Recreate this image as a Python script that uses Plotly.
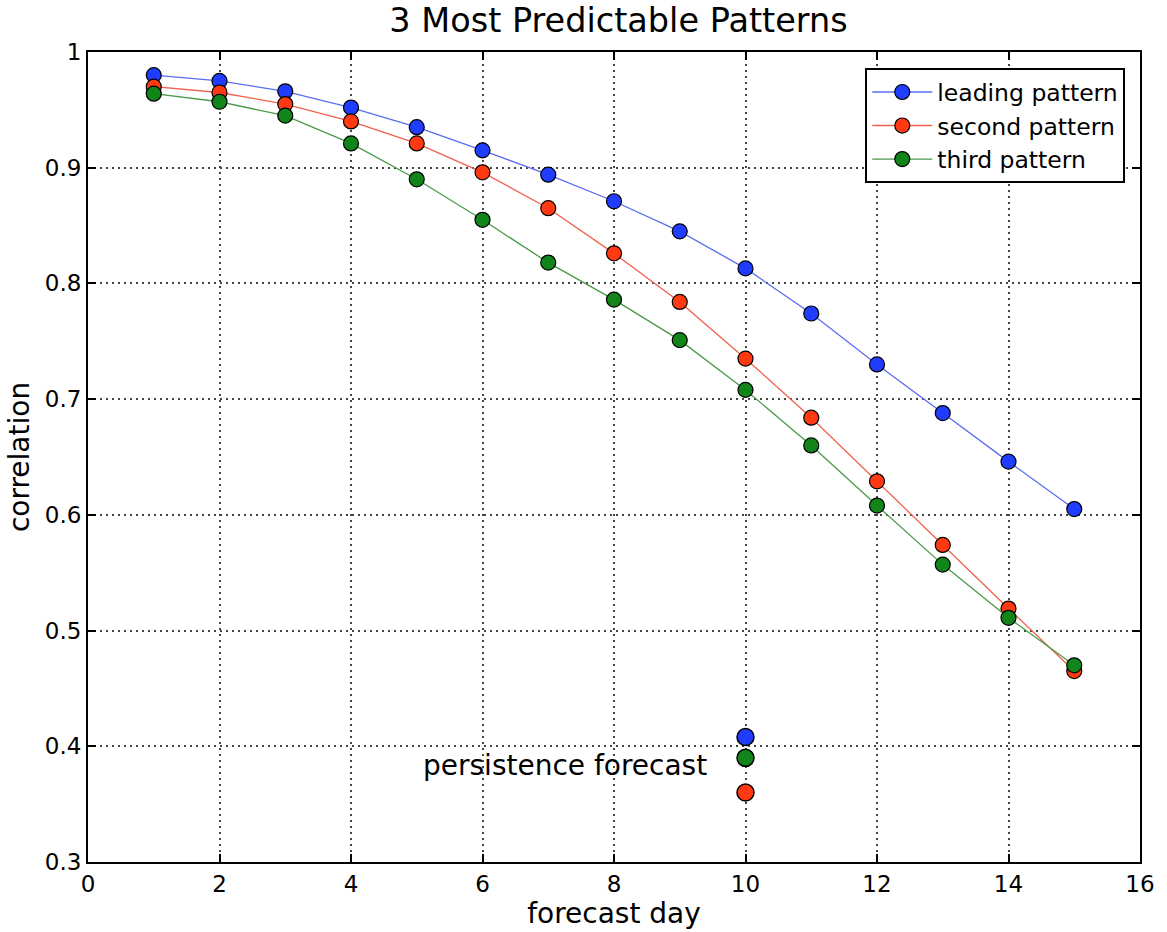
import plotly.graph_objects as go

days = list(range(1, 16))
leading = [0.980, 0.975, 0.966, 0.952, 0.935, 0.915, 0.894, 0.871, 0.845, 0.813, 0.774, 0.730, 0.688, 0.646, 0.605]
second = [0.970, 0.965, 0.955, 0.940, 0.921, 0.896, 0.865, 0.826, 0.784, 0.735, 0.684, 0.629, 0.574, 0.519, 0.465]
third = [0.964, 0.957, 0.945, 0.921, 0.890, 0.855, 0.818, 0.786, 0.751, 0.708, 0.660, 0.608, 0.557, 0.511, 0.470]
persist_day = 10
persist_vals = {"leading": 0.408, "third": 0.390, "second": 0.360}

names = ["leading pattern", "second pattern", "third pattern"]
marker_colors = ["#1f3cff", "#ff3a12", "#11851a"]
line_colors = ["#5a6cf0", "#f0604a", "#4a9a4a"]

FONT = "DejaVu Sans, Verdana, sans-serif"
fig = go.Figure()
for name, ys, mc, lc in zip(names, [leading, second, third], marker_colors, line_colors):
    fig.add_trace(go.Scatter(
        x=days, y=ys, name=name, mode="lines+markers",
        line=dict(color=lc, width=1.3),
        marker=dict(size=15, color=mc, line=dict(color="black", width=1.2)),
    ))

for key, mc in [("leading", marker_colors[0]), ("third", marker_colors[2]), ("second", marker_colors[1])]:
    fig.add_trace(go.Scatter(
        x=[persist_day], y=[persist_vals[key]], mode="markers", showlegend=False,
        marker=dict(size=17, color=mc, line=dict(color="black", width=1.5)),
    ))

fig.add_annotation(x=9.44, y=0.3836, xref="x", yref="y", text="persistence forecast",
                   showarrow=False, xanchor="right", yanchor="middle",
                   font=dict(family=FONT, size=28, color="black"))

axis_common = dict(
    showgrid=True, gridcolor="#444444", griddash="1.5px,4.5px", gridwidth=1.5,
    showline=True, linecolor="black", linewidth=2, mirror="ticks",
    ticks="inside", ticklen=8, tickcolor="black", tickwidth=1.5,
    zeroline=False, tickfont=dict(family=FONT, size=23, color="black"),
)
fig.update_xaxes(range=[0, 16], dtick=2, tick0=0,
                 title=dict(text="forecast day", font=dict(family=FONT, size=28, color="black"), standoff=3),
                 **axis_common)
fig.update_yaxes(range=[0.3, 1.0], dtick=0.1, tick0=0.3,
                 tickvals=[0.3, 0.4, 0.5, 0.6, 0.7, 0.8, 0.9, 1.0],
                 ticktext=["0.3", "0.4", "0.5", "0.6", "0.7", "0.8", "0.9", "1"],
                 title=dict(text="correlation", font=dict(family=FONT, size=28, color="black"), standoff=7),
                 **axis_common)

fig.update_layout(
    width=1167, height=932,
    margin=dict(l=88, r=19, t=52, b=70),
    paper_bgcolor="white", plot_bgcolor="white",
    title=dict(text="3 Most Predictable Patterns", x=0.53, xanchor="center", y=0.978, yanchor="middle",
               font=dict(family=FONT, size=33.5, color="black")),
    legend=dict(x=0.986, y=0.98, xanchor="right", yanchor="top",
                bordercolor="black", borderwidth=2, bgcolor="white",
                font=dict(family=FONT, size=23.5, color="black"),
                itemwidth=60, tracegroupgap=0),
    showlegend=True,
)

fig.write_html("out.html")
